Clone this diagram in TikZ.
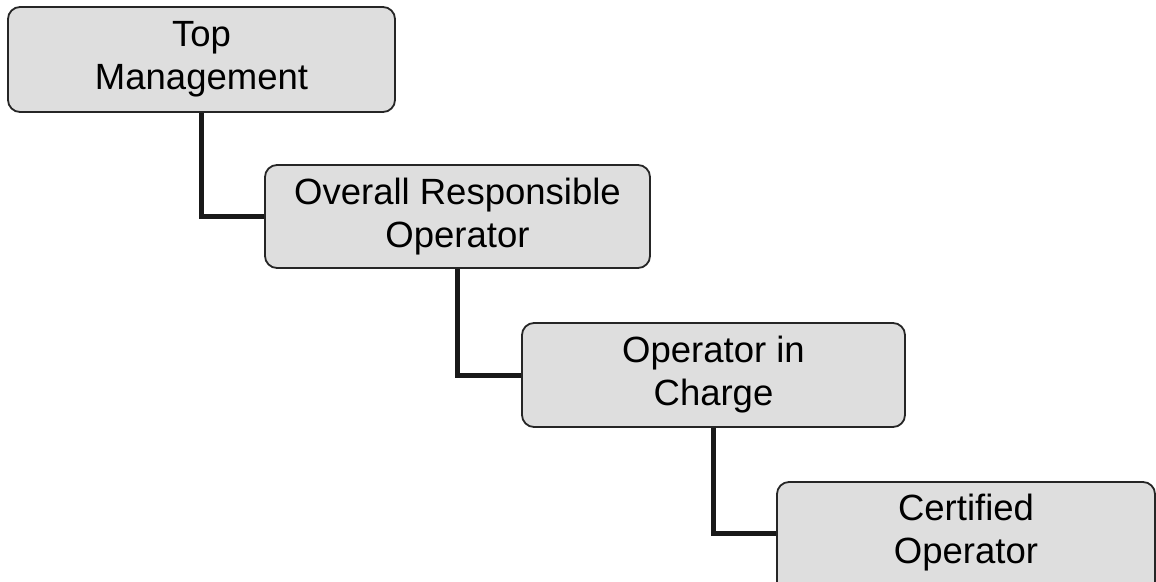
\documentclass[tikz,border=0pt]{standalone}
\usepackage{fontspec}
\setmainfont{Liberation Sans}
\begin{document}
\begin{tikzpicture}[x=1pt,y=-1pt,
  txt/.style={align=center,inner sep=0pt,font=\fontsize{36.5}{43}\selectfont},
  box/.style={txt,draw=black!85,line width=1.8pt,fill=black!13,rounded corners=12pt},
  conn/.style={draw=black!90,line width=5pt}]
\useasboundingbox (0,0) rectangle (1156,581);
\node[box,minimum width=387pt,minimum height=105pt] (b1) at (201.5,59.5) {Top\\Management};
\node[box,minimum width=385pt,minimum height=103pt] (b2) at (457.5,216.5) {Overall Responsible\\Operator};
\node[box,minimum width=383pt,minimum height=104pt] (b3) at (713.5,375) {Operator in\\Charge};
\node[box,minimum width=378pt,minimum height=112pt] (b4) at (966,538) {};
\node[txt] (t4) at (966,533) {Certified\\Operator};
\draw[conn] (b1.south) |- (b2.west);
\draw[conn] (b2.south) |- (b3.west);
\draw[conn] (b3.south) |- ([yshift=5pt]b4.west);
\end{tikzpicture}
\end{document}
